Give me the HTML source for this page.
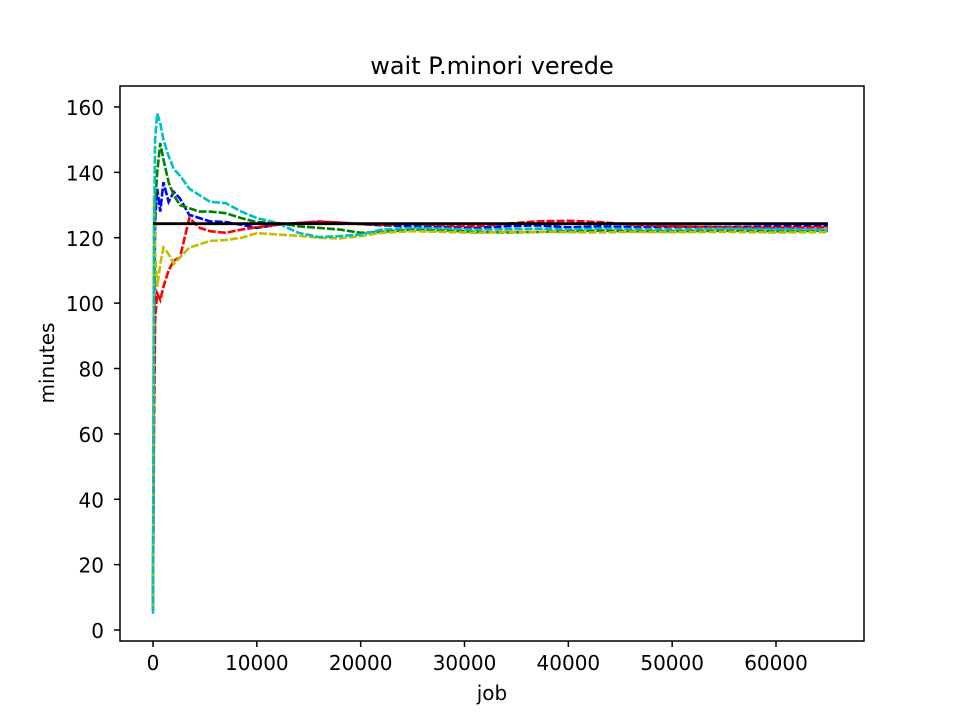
<!DOCTYPE html>
<html><head><meta charset="utf-8"><style>
body{margin:0;background:#fff;font-family:"Liberation Sans","DejaVu Sans",sans-serif}
svg text{font-family:"DejaVu Sans","Liberation Sans",sans-serif}
</style></head><body>
<svg id="chart" width="960" height="720" xmlns="http://www.w3.org/2000/svg">
<rect width="960" height="720" fill="#fff"/>
<text x="492" y="74" font-size="24" text-anchor="middle" fill="#000">wait P.minori verede</text>
<g id="plot"></g>
<rect x="120" y="86" width="744" height="555" fill="none" stroke="#000" stroke-width="1.5"/>
<text x="492" y="700" font-size="20" text-anchor="middle">job</text>
<text x="54" y="363" font-size="20" text-anchor="middle" transform="rotate(-90 54 363)">minutes</text>
</svg>
<script>
const xs=[0,100,200,400,700,1000,1500,2000,2600,3500,4500,5500,7000,8500,10000,12000,14000,16000,18000,20000,22000,25000,28000,31000,34000,37000,40000,43000,46000,50000,55000,60000,65000];
const blueVals=[6,90,125,135,128,137,131,134,132,127,126,125,124.8,124,123,124,124.5,124.8,124.6,124.2,123.8,123.5,123.3,123,123.5,123.8,123.2,123.5,123.3,123.4,123.3,123.5,123.6];
const redVals=[8,60,95,103,101,105,110,113,114,126,123,122,121.5,122.5,123.2,124,124.5,125,124.6,124.2,124,124.3,123.8,123.5,124.3,125,125.2,124.8,124,123.5,123.2,123,123.2];
const greenVals=[10,100,130,140,149,144,137,133,130,129,128,128,127.5,126,124.8,124.5,123.5,123,122.5,121.5,121.8,122.5,122.3,121.8,121.6,121.8,122,122.2,122,122,122.2,122,122.2];
const cyanVals=[5,120,150,158,155,150,145,141,139,135,133,131,130.6,128,126,124.5,121.5,120.2,120.5,121,122.5,123,122.8,122.5,122.6,122.8,122.6,122.8,122.7,122.6,122.8,122.6,122.5];
const yellowVals=[6,133,115,105,112,117,115,112,114,117,118,119,119.3,120,121.4,121,120.6,120,119.8,120.5,121.5,122,121.8,121.5,121.8,121.8,121.7,121.6,121.8,121.7,121.8,121.6,121.7];
const meanVal=124.3;
const xTicks=[0,10000,20000,30000,40000,50000,60000];
const yTicks=[0,20,40,60,80,100,120,140,160];
const X=v=>153+v*(776-153)/60000;
const Y=v=>630-v*(630-107)/160;
const NS="http://www.w3.org/2000/svg";
const svg=document.getElementById('chart');
const g=document.getElementById('plot');
function mk(t,a,p){const e=document.createElementNS(NS,t);for(const k in a)e.setAttribute(k,a[k]);(p||svg).appendChild(e);return e;}
xTicks.forEach(t=>{
 const l=mk('line',{x1:X(t),x2:X(t),y1:641,y2:647,stroke:'#000','stroke-width':1.5});
 
 
 const tx=mk('text',{x:X(t),y:670,'font-size':20,'text-anchor':'middle'});tx.textContent=t;
 
 
});
yTicks.forEach(t=>{
 const l=mk('line',{x1:114,x2:120,y1:Y(t),y2:Y(t),stroke:'#000','stroke-width':1.5});
 
 
 const tx=mk('text',{x:104,y:Y(t)+8,'font-size':20,'text-anchor':'end'});tx.textContent=t;
 
 
});
const series=[['blue-series',blueVals,'#0000ff'],['red-series',redVals,'#ff0000'],['green-series',greenVals,'#008000'],['yellow-series',yellowVals,'#bfbf00'],['cyan-series',cyanVals,'#00bfbf']];
series.forEach(s=>{
 const d=s[1].map((v,i)=>(i?'L':'M')+X(xs[i]).toFixed(1)+','+Y(v).toFixed(1)).join('');
 const p=mk('path',{d:d,fill:'none',stroke:s[2],'stroke-width':2.6,'stroke-dasharray':'8,2'},g);
 
 
});
const m=mk('line',{x1:X(0),x2:X(65000),y1:Y(meanVal),y2:Y(meanVal),stroke:'#000','stroke-width':2.8},g);


</script>
</body></html>
